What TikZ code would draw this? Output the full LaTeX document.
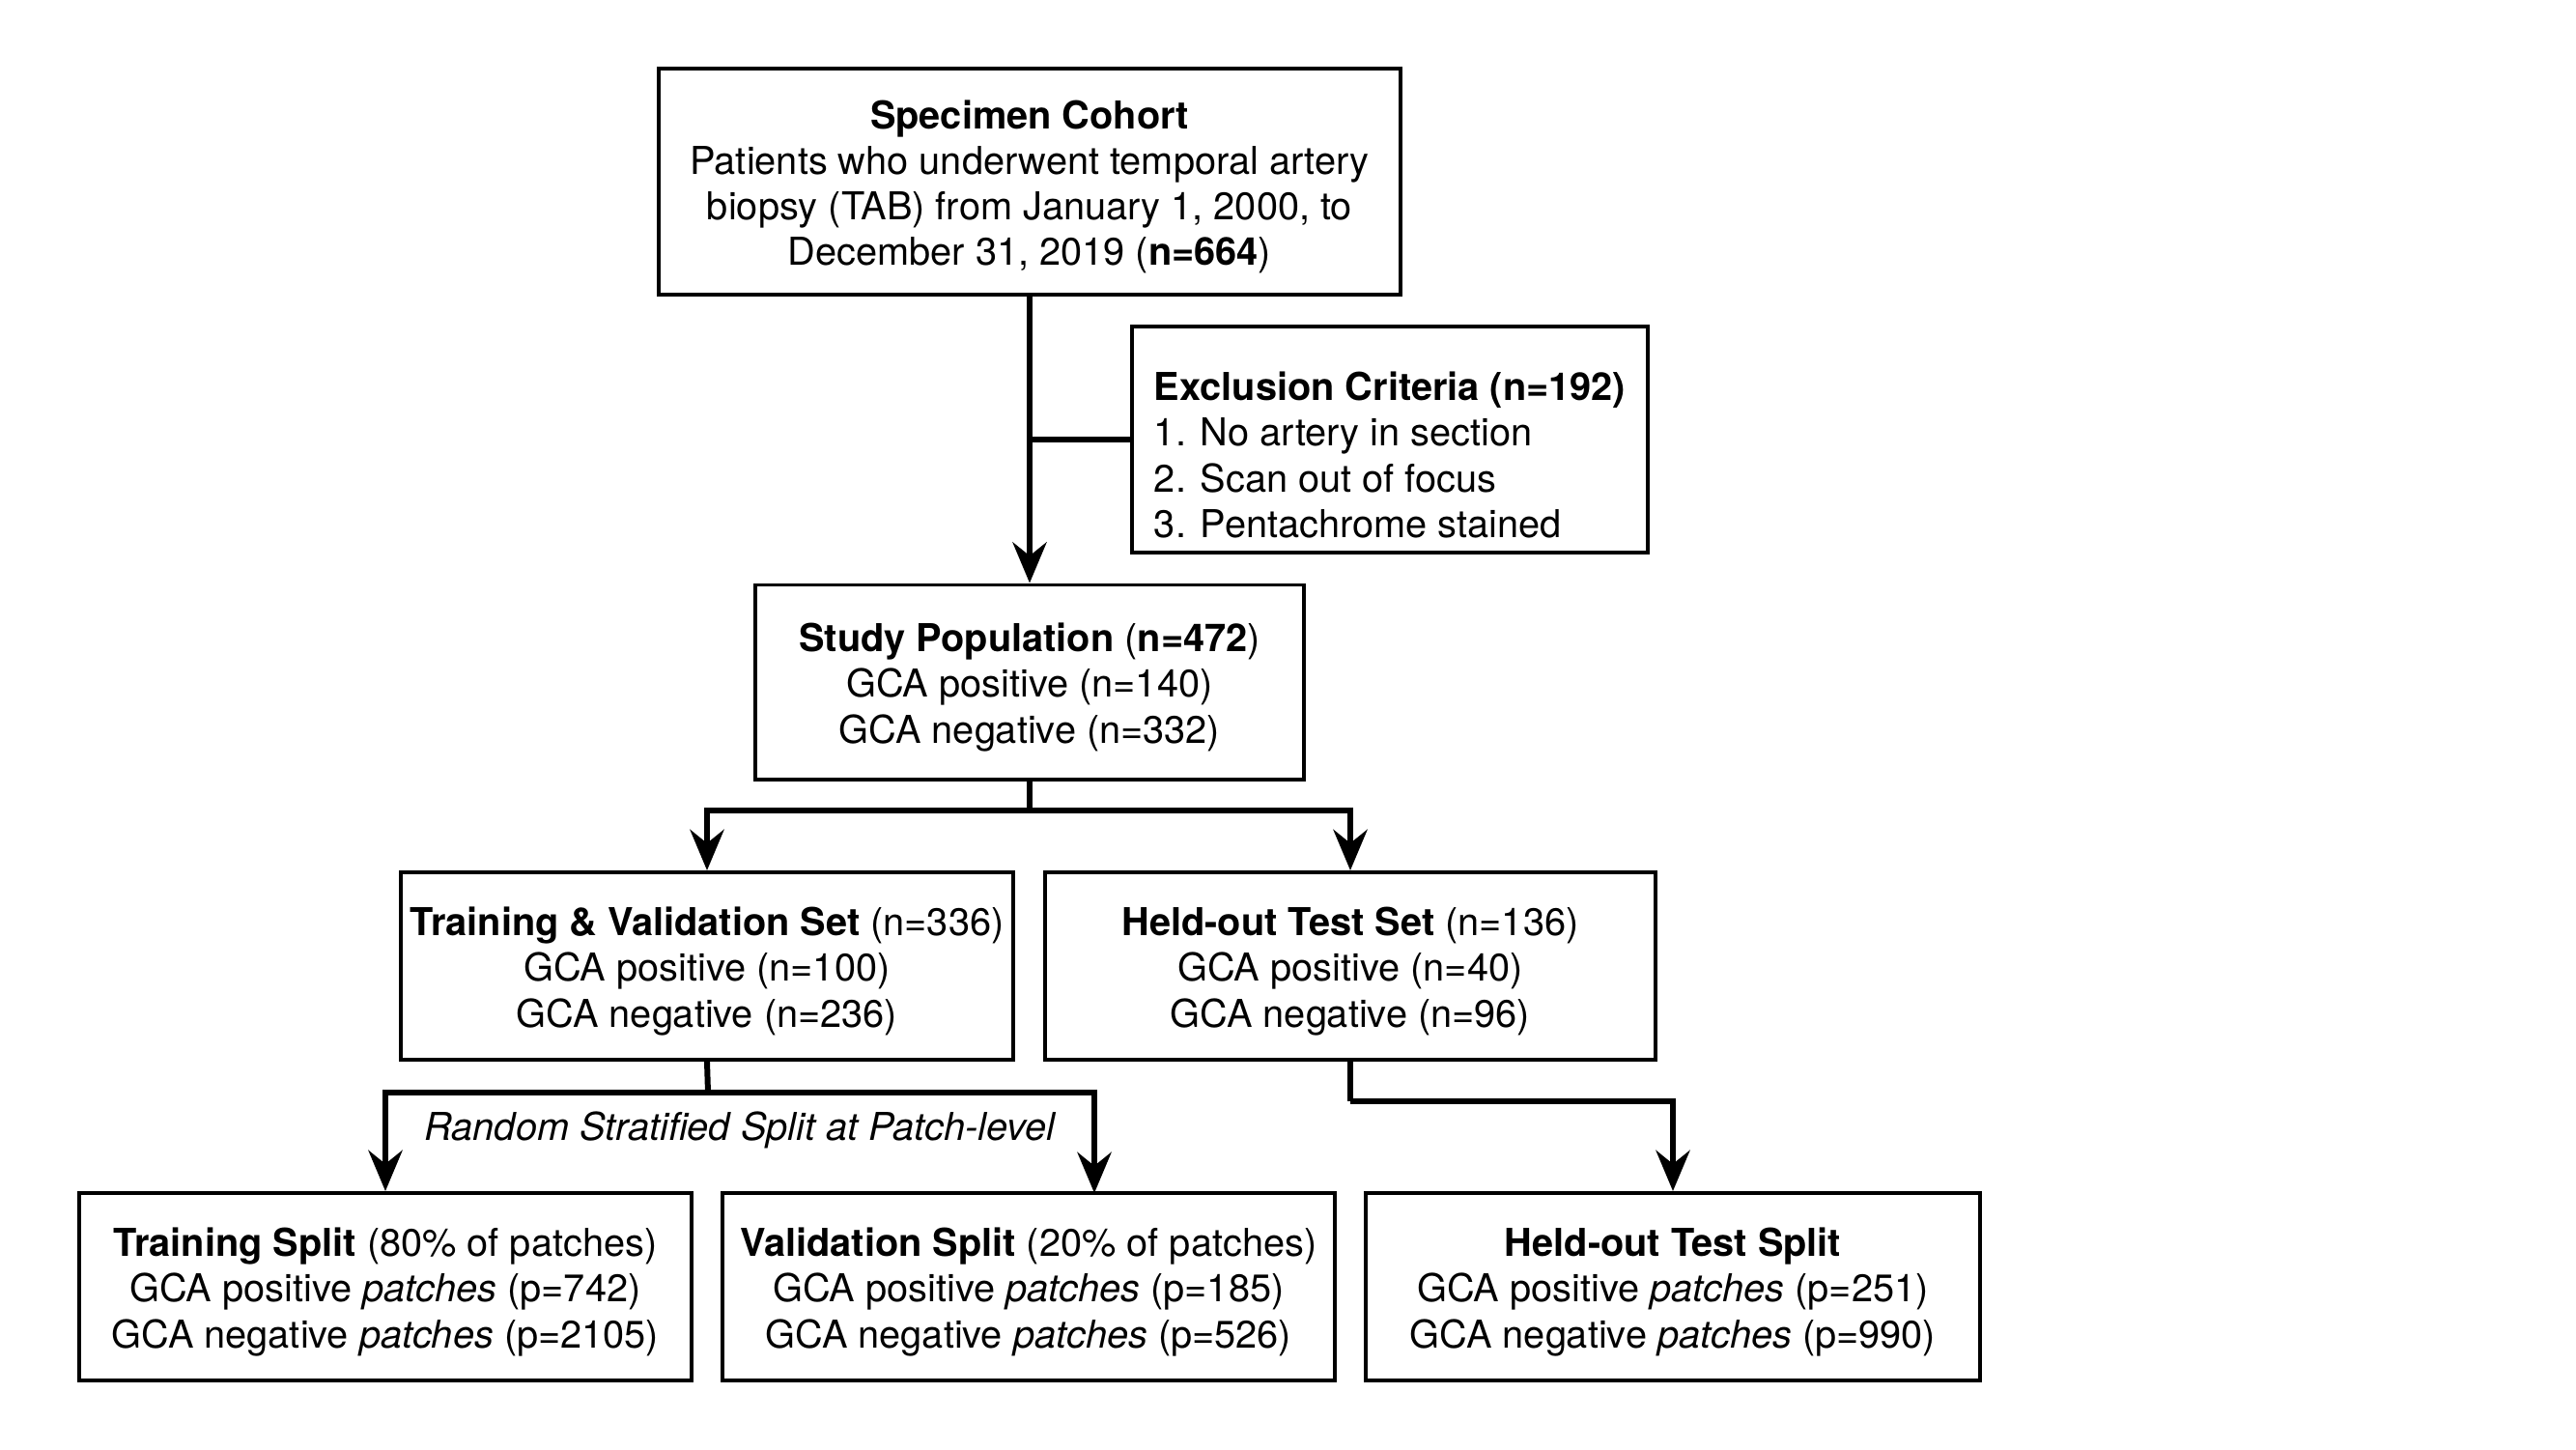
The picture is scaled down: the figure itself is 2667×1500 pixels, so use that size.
\documentclass[tikz,border=0pt]{standalone}
\usepackage{fontspec}
\setmainfont{TeX Gyre Heros}
\usetikzlibrary{arrows.meta}
\newcommand{\toppad}{\rule{0pt}{11.5pt}}
\newcommand{\toppadx}{\rule{0pt}{17.5pt}}
\begin{document}
\begin{tikzpicture}[x=0.01cm,y=-0.01cm,
  box/.style={draw,line width=1.1pt,inner sep=0pt,align=center,font=\fontsize{11.3}{13.4}\selectfont},
  conn/.style={line width=1.7pt},
  arr/.style={conn,-{Stealth[length=12pt,width=10pt,inset=4pt]}},
  lbl/.style={font=\fontsize{11.3}{13.4}\selectfont\itshape,inner sep=0pt}]
\useasboundingbox[fill=white] (0,0) rectangle (2667,1500);
\node[box,minimum width=7.67cm,minimum height=2.33cm] (spec) at (1066,188)
 {\toppad\textbf{Specimen Cohort}\\Patients who underwent temporal artery\\biopsy (TAB) from January 1, 2000, to\\December 31, 2019 (\textbf{n=664})};
\node[box,minimum width=5.34cm,minimum height=2.34cm,align=left] (excl) at (1439,455)
 {\toppadx\textbf{Exclusion Criteria (n=192)}\\1. No artery in section\\2. Scan out of focus\\3. Pentachrome stained};
\node[box,minimum width=5.67cm,minimum height=2.01cm] (study) at (1066,706)
 {\toppad\textbf{Study Population} (\textbf{n=472})\\GCA positive (n=140)\\GCA negative (n=332)};
\node[box,minimum width=6.34cm,minimum height=1.94cm] (tv) at (732,1000)
 {\toppad\textbf{Training \& Validation Set} (n=336)\\GCA positive (n=100)\\GCA negative (n=236)};
\node[box,minimum width=6.32cm,minimum height=1.94cm] (ht) at (1398,1000)
 {\toppad\textbf{Held-out Test Set} (n=136)\\GCA positive (n=40)\\GCA negative (n=96)};
\node[box,minimum width=6.34cm,minimum height=1.94cm] (ts) at (399,1332)
 {\toppad\textbf{Training Split} (80\% of patches)\\GCA positive \textit{patches} (p=742)\\GCA negative \textit{patches} (p=2105)};
\node[box,minimum width=6.33cm,minimum height=1.94cm] (vs) at (1065,1332)
 {\toppad\textbf{Validation Split} (20\% of patches)\\GCA positive \textit{patches} (p=185)\\GCA negative \textit{patches} (p=526)};
\node[box,minimum width=6.35cm,minimum height=1.94cm] (hts) at (1732,1332)
 {\toppad\textbf{Held-out Test Split}\\GCA positive \textit{patches} (p=251)\\GCA negative \textit{patches} (p=990)};
% connectors
\draw[arr] (spec.south) -- (study.north);
\coordinate (j1) at (spec.south |- excl.west);
\draw[conn] (excl.west) -- (j1);
\coordinate (j2) at (1066,839);
\draw[conn] (study.south) -- (j2);
\draw[arr] (j2) -| (tv.north);
\draw[arr] (j2) -| (ht.north);
\coordinate (j3) at (733,1131);
\draw[conn] (tv.south) -- (j3);
\coordinate (vsin) at (1133,1235);
\draw[arr] (j3) -| (ts.north);
\draw[arr] (j3) -| (vsin);
\coordinate (j4) at (1398,1140);
\draw[conn] (ht.south) -- (j4);
\draw[arr] (j4) -| (hts.north);
\node[lbl] (split) at (766,1170) {Random Stratified Split at Patch-level};
\end{tikzpicture}
\end{document}
